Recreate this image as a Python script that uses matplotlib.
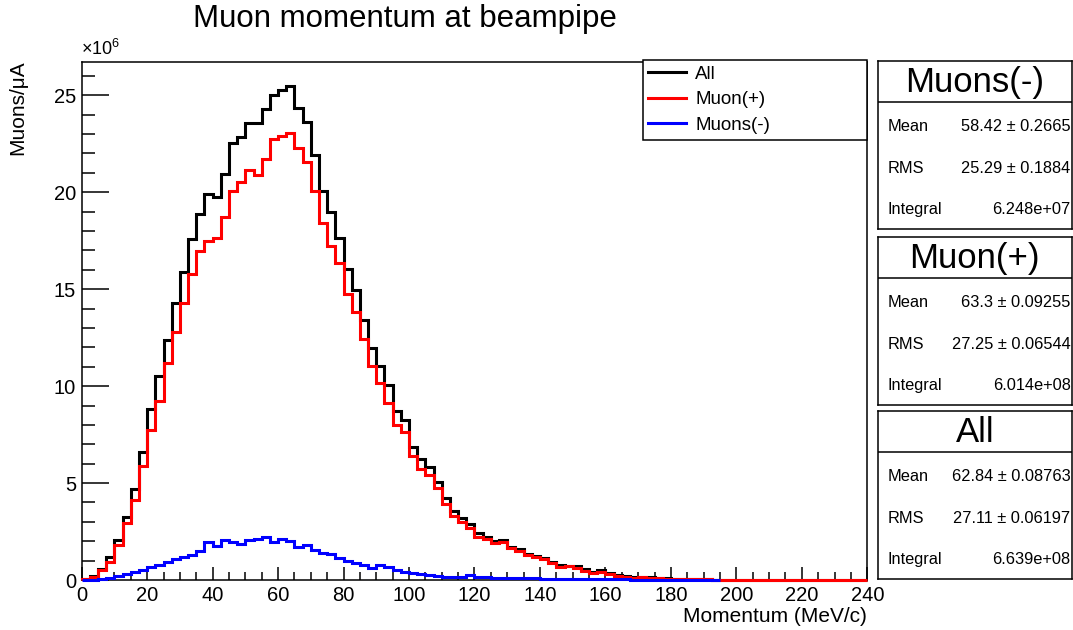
import numpy as np
import matplotlib
matplotlib.use('Agg')
import matplotlib.pyplot as plt
from matplotlib.ticker import MultipleLocator

plt.rcParams['font.family'] = ['Liberation Sans', 'DejaVu Sans']
plt.rcParams['mathtext.fontset'] = 'custom'
plt.rcParams['mathtext.rm'] = 'Liberation Sans'

# momentum histogram, 2.5 MeV/c bins, contents in units of 1e6 muons/uA
bin_width = 2.5
x_max = 240.0

all_counts = [
    0.05, 0.2, 0.57, 1.17, 2.06, 3.26, 4.7, 6.6, 8.8, 10.5,
    12.4, 14.3, 15.9, 17.6, 18.86, 19.9, 19.73, 20.94, 22.54, 22.85,
    23.55, 23.55, 24.3, 25.03, 25.29, 25.46, 24.33, 23.6, 21.93, 20.04,
    19.0, 17.66, 16.04, 14.95, 13.42, 11.99, 11.04, 10.05, 8.74, 8.26,
    6.87, 6.22, 5.82, 5.07, 4.22, 3.58, 3.2, 2.88, 2.41, 2.2,
    2.01, 2.06, 1.72, 1.58, 1.34, 1.24, 1.12, 0.95, 0.77, 0.74,
    0.74, 0.55, 0.43, 0.5, 0.38, 0.26, 0.21, 0.15, 0.14, 0.16,
    0.1, 0.09, 0.07, 0.05, 0.04, 0.03, 0.03, 0.02, 0.02, 0.02,
    0.02, 0.02, 0.01, 0.01, 0.01, 0.01, 0.01, 0.01, 0.01, 0.01,
    0.01, 0.01, 0.01, 0.01, 0.01, 0.01,
]

muplus_counts = [
    0.05, 0.17, 0.52, 0.95, 1.8, 2.92, 4.12, 5.9, 7.73, 9.21,
    11.18, 12.77, 14.29, 15.76, 16.95, 17.47, 17.64, 18.72, 20.07, 20.54,
    21.15, 20.89, 21.73, 22.73, 22.91, 23.03, 22.28, 21.55, 20.07, 18.42,
    17.24, 16.34, 14.77, 13.82, 12.43, 11.04, 10.17, 9.12, 7.99, 7.65,
    6.4, 5.74, 5.42, 4.73, 3.91, 3.3, 3.0, 2.66, 2.23, 2.1,
    1.89, 1.98, 1.63, 1.49, 1.29, 1.2, 1.07, 0.89, 0.69, 0.72,
    0.6, 0.48, 0.38, 0.41, 0.31, 0.22, 0.17, 0.12, 0.14, 0.12,
    0.09, 0.07, 0.05, 0.05, 0.03, 0.03, 0.03, 0.02, 0.02, 0.02,
    0.02, 0.02, 0.01, 0.01, 0.01, 0.01, 0.01, 0.01, 0.01, 0.01,
    0.01, 0.01, 0.01, 0.01, 0.01, 0.01,
]

# mu- histogram only runs up to 195 MeV/c
muminus_counts = [
    0.0, 0.02, 0.05, 0.12, 0.2, 0.29, 0.41, 0.52, 0.69, 0.77,
    0.95, 1.07, 1.17, 1.29, 1.47, 1.95, 1.75, 2.05, 1.95, 1.85,
    2.05, 2.1, 2.2, 1.95, 2.12, 2.0, 1.7, 1.82, 1.56, 1.4,
    1.35, 1.15, 0.96, 0.87, 0.75, 0.61, 0.78, 0.66, 0.52, 0.43,
    0.35, 0.31, 0.26, 0.23, 0.17, 0.14, 0.18, 0.26, 0.17, 0.14,
    0.12, 0.12, 0.1, 0.1, 0.09, 0.08, 0.07, 0.07, 0.06, 0.05,
    0.05, 0.04, 0.04, 0.04, 0.03, 0.03, 0.03, 0.02, 0.02, 0.02,
    0.02, 0.02, 0.02, 0.02, 0.02, 0.02, 0.02, 0.02,
]

hist_names = ['All', 'Muon(+)', 'Muons(-)']
hist_colors = ['black', 'red', 'blue']

# stat box contents, top to bottom
stat_titles = ['Muons(-)', 'Muon(+)', 'All']
stat_mean = ['58.42 \u00b1 0.2665', '63.3 \u00b1 0.09255', '62.84 \u00b1 0.08763']
stat_rms = ['25.29 \u00b1 0.1884', '27.25 \u00b1 0.06544', '27.11 \u00b1 0.06197']
stat_integral = ['6.248e+07', '6.014e+08', '6.639e+08']

W, H = 1073, 630
fig = plt.figure(figsize=(W / 100, H / 100), dpi=100)


def fbox(x0, y0, x1, y1):
    # pixel box (top-left origin) -> figure fraction rect
    return [x0 / W, 1 - y1 / H, (x1 - x0) / W, (y1 - y0) / H]


ax = fig.add_axes(fbox(81.7, 61.7, 867.3, 580))

edges = np.arange(0, x_max + bin_width / 2, bin_width)
edges_minus = edges[:len(muminus_counts) + 1]

series = [all_counts, muplus_counts, muminus_counts]
series_edges = [edges, edges, edges_minus]
for vals, e, col, name in zip(series, series_edges, hist_colors, hist_names):
    ax.stairs(vals, e, color=col, lw=2.2, label=name, zorder=3, clip_on=False)

ymax = max(all_counts) * 1.05
ax.set_xlim(0, x_max)
ax.set_ylim(0, ymax)

ax.xaxis.set_major_locator(MultipleLocator(20))
ax.xaxis.set_minor_locator(MultipleLocator(5))
ax.yaxis.set_major_locator(MultipleLocator(5))
ax.yaxis.set_minor_locator(MultipleLocator(1))
ax.tick_params(axis='both', which='both', direction='in', width=1.1,
               top=False, right=False, labelsize=14.5, colors='black')
ax.tick_params(axis='y', which='major', length=19.4, pad=4)
ax.tick_params(axis='y', which='minor', length=9.4)
ax.tick_params(axis='x', which='major', length=9.4, pad=4)
ax.tick_params(axis='x', which='minor', length=5.5)
for sp in ax.spines.values():
    sp.set_linewidth(1.1)

leg_handles = [plt.Line2D([], [], color=c, lw=2.2) for c in hist_colors]
leg = ax.legend(leg_handles, hist_names, loc='upper left',
                bbox_to_anchor=(642.7 / W, 1 - 60.7 / H, 224 / W, 0.001),
                bbox_transform=fig.transFigure, mode='expand',
                frameon=True, fancybox=False, framealpha=1,
                edgecolor='black', fontsize=13.5, borderaxespad=0,
                handlelength=2.0, handletextpad=0.5, labelspacing=0.45,
                borderpad=0.3)
leg.get_frame().set_linewidth(1.1)

fig.text(405 / W, 1 - 19 / H, 'Muon momentum at beampipe', ha='center',
         va='center', fontsize=22.5)
fig.text(867 / W, 1 - 617 / H, 'Momentum (MeV/c)', ha='right',
         va='center', fontsize=15)
fig.text(18 / W, 1 - 60 / H, 'Muons/\u03bcA', ha='center', va='top',
         rotation=90, fontsize=15)
fig.text(81 / W, 1 - 49 / H, r'$\mathregular{\times10^{6}}$', ha='left',
         va='center', fontsize=13)

# three stat boxes on the right
box_tops = [61.1, 237.4, 411.4]
box_h = 168
title_h = 41
row_offsets = [65, 107, 148]
for i in range(3):
    top = box_tops[i]
    bax = fig.add_axes(fbox(878, top, 1071.5, top + box_h))
    bax.set_xlim(0, 1)
    bax.set_ylim(box_h, 0)
    bax.set_xticks([])
    bax.set_yticks([])
    for sp in bax.spines.values():
        sp.set_linewidth(1.1)
    bax.axhline(title_h, color='black', lw=1.1)
    bax.text(0.5, title_h / 2 + 1, stat_titles[i], ha='center', va='center',
             fontsize=25)
    rows = [('Mean', stat_mean[i]), ('RMS', stat_rms[i]),
            ('Integral', stat_integral[i])]
    for (lab, val), yoff in zip(rows, row_offsets):
        bax.text(0.05, yoff, lab, ha='left', va='center', fontsize=11.8)
        bax.text(0.995, yoff, val, ha='right', va='center', fontsize=11.8)

fig.savefig('out.png', dpi=100)
